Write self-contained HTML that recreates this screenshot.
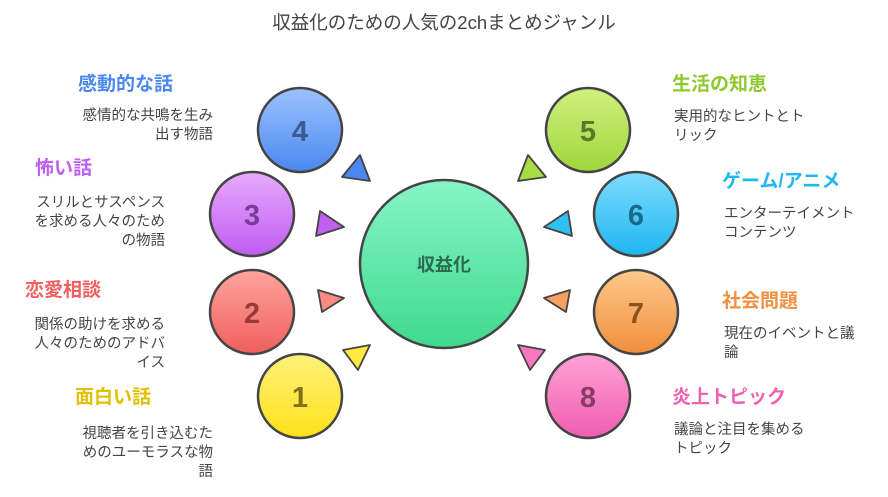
<!DOCTYPE html>
<html><head><meta charset="utf-8"><style>
html,body{margin:0;padding:0;background:#fff}
svg text{font-family:"Liberation Sans","Noto Sans CJK JP",sans-serif}
.t{font-size:19px;font-weight:bold}
.d{font-size:14.5px;fill:#444}
.n{font-size:29px;font-weight:bold;text-anchor:middle}
</style></head><body>
<svg width="888" height="492" viewBox="0 0 888 492" xmlns="http://www.w3.org/2000/svg">
<defs>
<linearGradient id="g0" x1="0" y1="0" x2="0" y2="1"><stop offset="0" stop-color="#86f5c6"/><stop offset="1" stop-color="#3fd98e"/></linearGradient>
<linearGradient id="g4" x1="0" y1="0" x2="0" y2="1"><stop offset="0" stop-color="#9cc2ff"/><stop offset="1" stop-color="#4a88f0"/></linearGradient>
<linearGradient id="g3" x1="0" y1="0" x2="0" y2="1"><stop offset="0" stop-color="#e8aaff"/><stop offset="1" stop-color="#bf5cf0"/></linearGradient>
<linearGradient id="g2" x1="0" y1="0" x2="0" y2="1"><stop offset="0" stop-color="#ffa49c"/><stop offset="1" stop-color="#f05e5e"/></linearGradient>
<linearGradient id="g1" x1="0" y1="0" x2="0" y2="1"><stop offset="0" stop-color="#fff27a"/><stop offset="1" stop-color="#ffe01a"/></linearGradient>
<linearGradient id="g5" x1="0" y1="0" x2="0" y2="1"><stop offset="0" stop-color="#d0f080"/><stop offset="1" stop-color="#9fd63c"/></linearGradient>
<linearGradient id="g6" x1="0" y1="0" x2="0" y2="1"><stop offset="0" stop-color="#7edcff"/><stop offset="1" stop-color="#1eb6f0"/></linearGradient>
<linearGradient id="g7" x1="0" y1="0" x2="0" y2="1"><stop offset="0" stop-color="#ffc88c"/><stop offset="1" stop-color="#f08e3c"/></linearGradient>
<linearGradient id="g8" x1="0" y1="0" x2="0" y2="1"><stop offset="0" stop-color="#ffa2d6"/><stop offset="1" stop-color="#f05cb0"/></linearGradient>
</defs>
<text x="444" y="29" text-anchor="middle" style="font-size:18.5px;fill:#444">収益化のための人気の2chまとめジャンル</text>
<g stroke="#444" stroke-width="2.5" stroke-linejoin="round">
<circle cx="444" cy="264" r="84" fill="url(#g0)"/>
<circle cx="300" cy="130" r="42" fill="url(#g4)"/>
<circle cx="252" cy="214" r="42" fill="url(#g3)"/>
<circle cx="252" cy="312" r="42" fill="url(#g2)"/>
<circle cx="300" cy="396" r="42" fill="url(#g1)"/>
<circle cx="588" cy="130" r="42" fill="url(#g5)"/>
<circle cx="636" cy="214" r="42" fill="url(#g6)"/>
<circle cx="636" cy="312" r="42" fill="url(#g7)"/>
<circle cx="588" cy="396" r="42" fill="url(#g8)"/>
<g stroke-width="1.8">
<polygon points="360,155 342,177 370,181" fill="#4a88f0"/>
<polygon points="320,211 316,236 344,227" fill="#c060f0"/>
<polygon points="318,290 344,298 322,312" fill="#ff8a84"/>
<polygon points="343,350 370,345 358,370" fill="#ffe840"/>
<polygon points="528,155 546,177 518,181" fill="#a8dc44"/>
<polygon points="568,211 572,236 544,227" fill="#30c0f0"/>
<polygon points="570,290 544,298 566,312" fill="#f8a060"/>
<polygon points="545,350 518,345 530,370" fill="#f878c0"/>
</g></g>
<text x="444" y="271" text-anchor="middle" style="font-size:18px;font-weight:bold;fill:#2c6a50">収益化</text>
<text class="n" x="300" y="141" fill="#3a5a90">4</text>
<text class="n" x="252" y="225" fill="#7a3a98">3</text>
<text class="n" x="252" y="323" fill="#983a3a">2</text>
<text class="n" x="300" y="407" fill="#80701a">1</text>
<text class="n" x="588" y="141" fill="#5a7a28">5</text>
<text class="n" x="636" y="225" fill="#1a6a88">6</text>
<text class="n" x="636" y="323" fill="#8a5220">7</text>
<text class="n" x="588" y="407" fill="#8a3a68">8</text>

<text class="t" x="78" y="90" fill="#4a88f0">感動的な話</text>
<text class="d" x="213" y="120" text-anchor="end">感情的な共鳴を生み</text>
<text class="d" x="213" y="139" text-anchor="end">出す物語</text>
<text class="t" x="35" y="174" fill="#c060f0">怖い話</text>
<text class="d" x="165" y="207" text-anchor="end">スリルとサスペンス</text>
<text class="d" x="165" y="226" text-anchor="end">を求める人々のため</text>
<text class="d" x="165" y="245" text-anchor="end">の物語</text>
<text class="t" x="25" y="296" fill="#f06060">恋愛相談</text>
<text class="d" x="165" y="329" text-anchor="end">関係の助けを求める</text>
<text class="d" x="165" y="348" text-anchor="end">人々のためのアドバ</text>
<text class="d" x="165" y="367" text-anchor="end">イス</text>
<text class="t" x="75" y="403" fill="#e0c000">面白い話</text>
<text class="d" x="213" y="438" text-anchor="end">視聴者を引き込むた</text>
<text class="d" x="213" y="457" text-anchor="end">めのユーモラスな物</text>
<text class="d" x="213" y="476" text-anchor="end">語</text>

<text class="t" x="672" y="90" fill="#90c830">生活の知恵</text>
<text class="d" x="674" y="121">実用的なヒントとト</text>
<text class="d" x="674" y="140">リック</text>
<text class="t" x="722" y="187" fill="#20b8f0">ゲーム/アニメ</text>
<text class="d" x="724" y="218">エンターテイメント</text>
<text class="d" x="724" y="237">コンテンツ</text>
<text class="t" x="722" y="307" fill="#f09040">社会問題</text>
<text class="d" x="724" y="338">現在のイベントと議</text>
<text class="d" x="724" y="357">論</text>
<text class="t" x="672" y="403" fill="#f060b0">炎上トピック</text>
<text class="d" x="674" y="434">議論と注目を集める</text>
<text class="d" x="674" y="453">トピック</text>
</svg>
</body></html>
